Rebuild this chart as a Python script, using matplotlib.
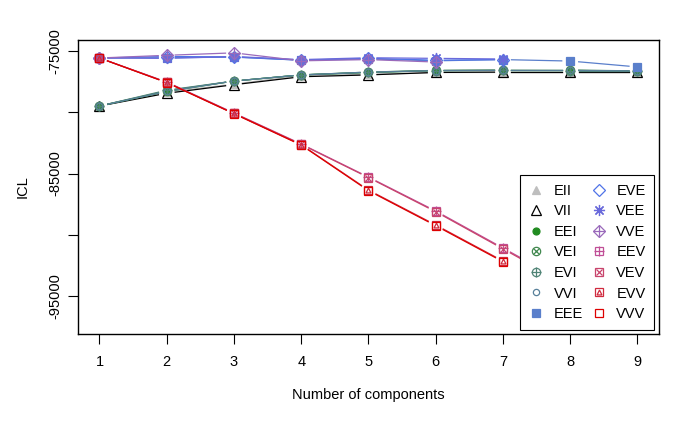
import numpy as np
import matplotlib.pyplot as plt
from matplotlib.lines import Line2D
from matplotlib.legend_handler import HandlerTuple

plt.rcParams["font.family"] = ["Liberation Sans", "DejaVu Sans"]

nan = np.nan
components = [1, 2, 3, 4, 5, 6, 7, 8, 9]

# ICL values (NaN = model not fitted)
EII = [-79490, -78350, -77700, -77000, -76900, -76750, -76750, -76750, -76750]
VII = [-79490, -78450, -77750, -77100, -76950, -76750, -76720, -76720, -76720]
EEI = [-79490, -78300, -77450, -76950, -76750, -76600, -76580, -76580, -76650]
VEI = [-79490, -78250, -77450, -76950, -76720, -76580, -76560, -76560, -76620]
EVI = [-79490, -78200, -77450, -76950, -76750, -76600, -76580, -76600, -76600]
VVI = [-79490, -78300, -77450, -76950, -76720, -76600, -76580, -76580, -76620]
EEE = [-75570, -75550, -75500, -75750, -75650, -75800, -75700, -75820, -76300]
EVE = [-75570, -75450, -75480, -75750, -75600, -75750, -75700, nan, nan]
VEE = [-75570, -75600, -75450, -75700, -75550, -75600, -75650, nan, nan]
VVE = [-75570, -75350, -75150, -75800, -75700, -75900, nan, nan, nan]
EEV = [-75570, -77530, -80060, -82590, -85290, -88060, -91080, -94100, -97300]
VEV = [-75570, -77560, -80100, -82620, -85330, -88120, -91150, -94200, -97370]
EVV = [-75570, -77560, -80100, -82650, -86350, -89200, -92140, nan, nan]
VVV = [-75570, -77580, -80120, -82680, -86400, -89260, -92200, nan, nan]

model_names = ["EII", "VII", "EEI", "VEI", "EVI", "VVI", "EEE",
               "EVE", "VEE", "VVE", "EEV", "VEV", "EVV", "VVV"]
model_values = [EII, VII, EEI, VEI, EVI, VVI, EEE,
                EVE, VEE, VVE, EEV, VEV, EVV, VVV]

colors = {
    "EII": "#BEBEBE", "VII": "#000000", "EEI": "#218B21", "VEI": "#41884F",
    "EVI": "#508476", "VVI": "#58809A", "EEE": "#5A7FCB", "EVE": "#4F73E8",
    "VEE": "#6A6ADB", "VVE": "#9A6ABB", "EEV": "#C04F97", "VEV": "#C8446C",
    "EVV": "#D02A3E", "VVV": "#DD0000",
}

# marker pieces: (marker, filled, size)
markers = {
    "EII": [("^", True, 6)],
    "VII": [("^", False, 6.5)],
    "EEI": [("o", True, 5)],
    "VEI": [("o", False, 6), ("x", False, 5)],
    "EVI": [("o", False, 6), ("+", False, 7)],
    "VVI": [("o", False, 4.5)],
    "EEE": [("s", True, 5.5)],
    "EVE": [("D", False, 6)],
    "VEE": [((8, 2, 0), False, 8)],
    "VVE": [("D", False, 6), ("+", False, 8)],
    "EEV": [("s", False, 6), ("+", False, 6.5)],
    "VEV": [("s", False, 6), ("x", False, 4.5)],
    "EVV": [("s", False, 6), ("^", False, 3.5)],
    "VVV": [("s", False, 6)],
}

fig = plt.figure(figsize=(7, 4.32), dpi=100)
ax = fig.add_axes([0.1114, 0.2269, 0.83, 0.6805])

allv = np.array([v for vals in model_values for v in vals], dtype=float)
vmin, vmax = np.nanmin(allv), np.nanmax(allv)
r = vmax - vmin
ax.set_xlim(1 - 0.04 * 8, 9 + 0.04 * 8)
ax.set_ylim(vmin - 0.04 * r + 160, vmax + 0.04 * r + 160)


def make_pieces(name):
    pieces = []
    for m, filled, size in markers[name]:
        col = colors[name]
        pieces.append(dict(linestyle="none", marker=m, markersize=size,
                           markeredgecolor=col,
                           markerfacecolor=col if filled else "none",
                           markeredgewidth=0.9))
    return pieces


# lines with gaps around the points (like R type = "b")
gap = 8.5
trans = ax.transData
inv = trans.inverted()
for name, vals in zip(model_names, model_values):
    x = np.array(components, dtype=float)
    y = np.array(vals, dtype=float)
    for i in range(len(x) - 1):
        if np.isnan(y[i]) or np.isnan(y[i + 1]):
            continue
        p0 = trans.transform((x[i], y[i]))
        p1 = trans.transform((x[i + 1], y[i + 1]))
        d = p1 - p0
        L = np.hypot(*d)
        if L <= 2 * gap:
            continue
        q0 = inv.transform(p0 + d / L * gap)
        q1 = inv.transform(p1 - d / L * gap)
        ax.plot([q0[0], q1[0]], [q0[1], q1[1]], color=colors[name], linewidth=0.9)

legend_handles = []
for name, vals in zip(model_names, model_values):
    for kw in make_pieces(name):
        ax.plot(components, vals, **kw)
    legend_handles.append(tuple(Line2D([], [], **kw) for kw in make_pieces(name)))

ax.set_xticks(components)
ax.set_yticks([-95000, -90000, -85000, -80000, -75000])
ax.set_yticklabels(["-95000", "", "-85000", "", "-75000"], rotation=90, va="center")
ax.tick_params(axis="both", direction="out", length=7, width=0.8, labelsize=10.5,
               color="black", pad=4)
ax.tick_params(axis="x", pad=8)
for s in ax.spines.values():
    s.set_linewidth(1)

ax.set_xlabel("Number of components", fontsize=10.5, labelpad=14)
ax.set_ylabel("ICL", fontsize=10.5, labelpad=14)

leg = ax.legend(legend_handles, model_names, ncol=2, loc="lower right",
                bbox_to_anchor=(0.992, 0.014), borderaxespad=0, fancybox=False,
                framealpha=1, edgecolor="black", fontsize=10.5,
                handler_map={tuple: HandlerTuple(ndivide=1)},
                handlelength=1.0, handletextpad=0.7, columnspacing=0.6,
                labelspacing=0.45, borderpad=0.6)
leg.get_frame().set_linewidth(0.8)

fig.savefig("out.png", dpi=100)
